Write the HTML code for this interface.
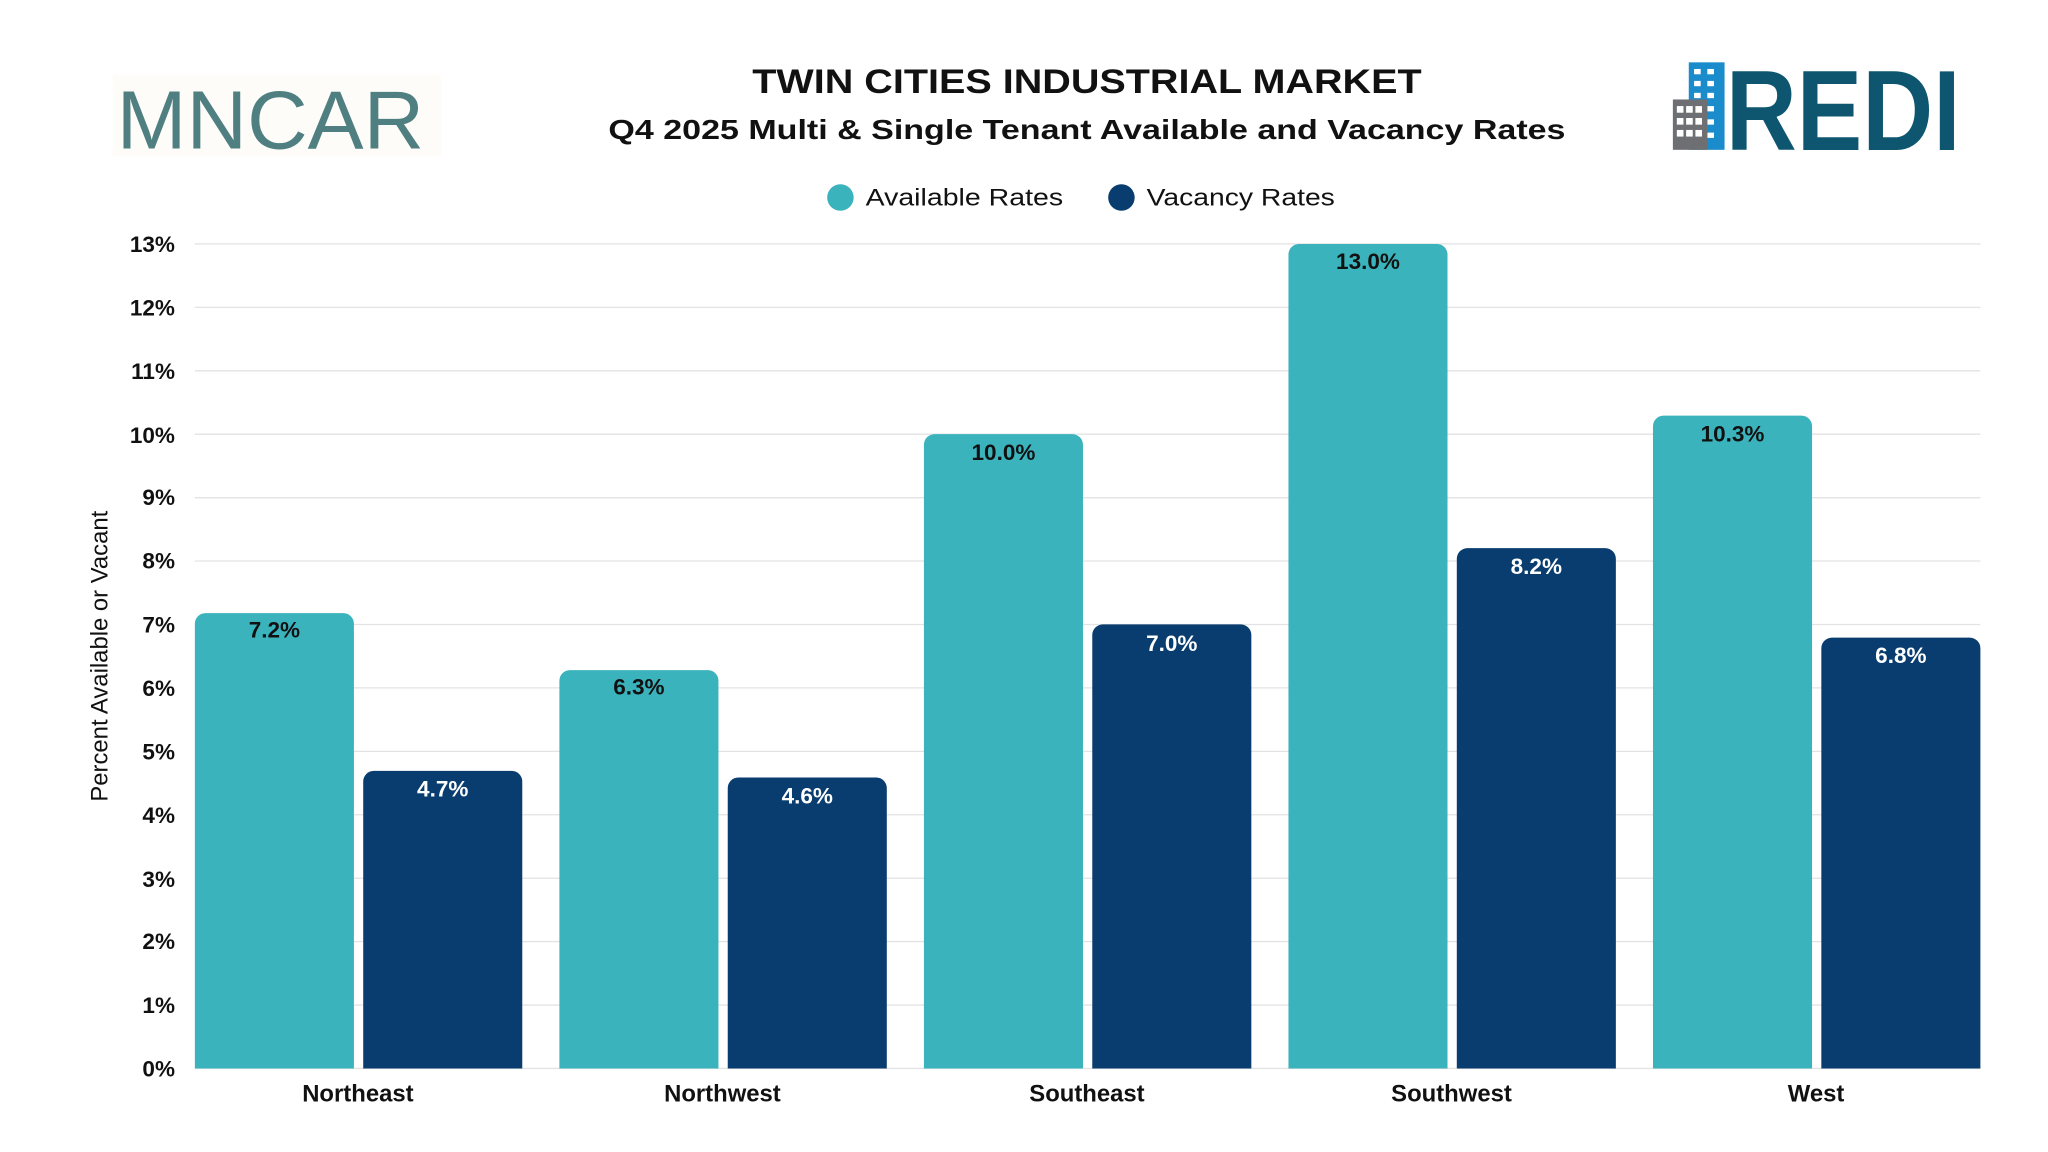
<!DOCTYPE html>
<html><head><meta charset="utf-8"><style>
html,body{margin:0;padding:0;background:#fff;}
svg{display:block;}
text{font-family:"Liberation Sans","DejaVu Sans",sans-serif;}
</style></head><body>
<svg width="2048" height="1152" viewBox="0 0 1545 869" xmlns="http://www.w3.org/2000/svg">
<rect width="1545" height="869" fill="#fff"/>
<!-- MNCAR logo -->
<rect x="85" y="56" width="248" height="62" fill="#fdfcf8"/>
<text x="204" y="112" text-anchor="middle" font-size="62" fill="#4f7f80" textLength="232" lengthAdjust="spacingAndGlyphs">MNCAR</text>
<!-- REDI logo -->
<rect x="1274" y="47" width="27" height="66" fill="#1a8ccc"/>
<g fill="#fff">
<rect x="1278" y="52" width="5" height="4"/><rect x="1288" y="52" width="5" height="4"/>
<rect x="1278" y="61" width="5" height="4"/><rect x="1288" y="61" width="5" height="4"/>
<rect x="1278" y="70" width="5" height="4"/><rect x="1288" y="70" width="5" height="4"/>
<rect x="1288" y="80" width="5" height="4"/><rect x="1288" y="90" width="5" height="4"/><rect x="1288" y="100" width="5" height="4"/>
</g>
<rect x="1262" y="75" width="26" height="38" fill="#6d6f72"/>
<g fill="#fff">
<rect x="1265" y="80" width="5" height="5"/><rect x="1272" y="80" width="5" height="5"/><rect x="1279" y="80" width="5" height="5"/>
<rect x="1265" y="89" width="5" height="5"/><rect x="1272" y="89" width="5" height="5"/><rect x="1279" y="89" width="5" height="5"/>
<rect x="1265" y="98" width="5" height="5"/><rect x="1272" y="98" width="5" height="5"/><rect x="1279" y="98" width="5" height="5"/>
</g>
<text x="1302" y="113" font-size="86" font-weight="bold" fill="#0e5670" textLength="177" lengthAdjust="spacingAndGlyphs">REDI</text>
<!-- Titles -->
<text x="820" y="70" text-anchor="middle" font-size="26" font-weight="bold" fill="#111" textLength="505" lengthAdjust="spacingAndGlyphs">TWIN CITIES INDUSTRIAL MARKET</text>
<text x="820" y="105" text-anchor="middle" font-size="21" font-weight="bold" fill="#111" textLength="722" lengthAdjust="spacingAndGlyphs">Q4 2025 Multi &amp; Single Tenant Available and Vacancy Rates</text>
<!-- Legend -->
<circle cx="634" cy="149" r="10" fill="#3bb3bc"/>
<text x="653" y="155" font-size="18" fill="#111" textLength="149" lengthAdjust="spacingAndGlyphs">Available Rates</text>
<circle cx="846" cy="149" r="10" fill="#0a3d6f"/>
<text x="865" y="155" font-size="18" fill="#111" textLength="142" lengthAdjust="spacingAndGlyphs">Vacancy Rates</text>
<!-- Grid -->
<g stroke="#e3e3e3" stroke-width="1">
<line x1="147" x2="1494" y1="184" y2="184"/><line x1="147" x2="1494" y1="231.85" y2="231.85"/>
<line x1="147" x2="1494" y1="279.7" y2="279.7"/><line x1="147" x2="1494" y1="327.5" y2="327.5"/>
<line x1="147" x2="1494" y1="375.4" y2="375.4"/><line x1="147" x2="1494" y1="423.2" y2="423.2"/>
<line x1="147" x2="1494" y1="471.1" y2="471.1"/><line x1="147" x2="1494" y1="518.9" y2="518.9"/>
<line x1="147" x2="1494" y1="566.8" y2="566.8"/><line x1="147" x2="1494" y1="614.6" y2="614.6"/>
<line x1="147" x2="1494" y1="662.5" y2="662.5"/><line x1="147" x2="1494" y1="710.3" y2="710.3"/>
<line x1="147" x2="1494" y1="758.2" y2="758.2"/><line x1="147" x2="1494" y1="806" y2="806"/>
</g>
<g font-size="17" font-weight="bold" fill="#111" text-anchor="end">
<text x="132" y="190">13%</text><text x="132" y="238">12%</text><text x="132" y="286">11%</text>
<text x="132" y="334">10%</text><text x="132" y="381">9%</text><text x="132" y="429">8%</text>
<text x="132" y="477">7%</text><text x="132" y="525">6%</text><text x="132" y="573">5%</text>
<text x="132" y="621">4%</text><text x="132" y="669">3%</text><text x="132" y="716">2%</text>
<text x="132" y="764">1%</text><text x="132" y="812">0%</text>
</g>
<text transform="translate(81,495) rotate(-90)" text-anchor="middle" font-size="18" fill="#111">Percent Available or Vacant</text>
<!-- Bars -->
<g fill="#3bb3bc">
<path d="M147,806V470.5a8,8 0 0 1 8,-8H259a8,8 0 0 1 8,8V806Z"/>
<path d="M422,806V513.5a8,8 0 0 1 8,-8H534a8,8 0 0 1 8,8V806Z"/>
<path d="M697,806V335.5a8,8 0 0 1 8,-8H809a8,8 0 0 1 8,8V806Z"/>
<path d="M972,806V192a8,8 0 0 1 8,-8H1084a8,8 0 0 1 8,8V806Z"/>
<path d="M1247,806V321.5a8,8 0 0 1 8,-8H1359a8,8 0 0 1 8,8V806Z"/>
</g>
<g fill="#0a3d6f">
<path d="M274,806V589.5a8,8 0 0 1 8,-8H386a8,8 0 0 1 8,8V806Z"/>
<path d="M549,806V594.5a8,8 0 0 1 8,-8H661a8,8 0 0 1 8,8V806Z"/>
<path d="M824,806V479a8,8 0 0 1 8,-8H936a8,8 0 0 1 8,8V806Z"/>
<path d="M1099,806V421.5a8,8 0 0 1 8,-8H1211a8,8 0 0 1 8,8V806Z"/>
<path d="M1374,806V489a8,8 0 0 1 8,-8H1486a8,8 0 0 1 8,8V806Z"/>
</g>
<g font-size="17" font-weight="bold" text-anchor="middle">
<text x="207" y="481" fill="#111">7.2%</text>
<text x="334" y="601" fill="#fff">4.7%</text>
<text x="482" y="524" fill="#111">6.3%</text>
<text x="609" y="606" fill="#fff">4.6%</text>
<text x="757" y="347" fill="#111">10.0%</text>
<text x="884" y="491" fill="#fff">7.0%</text>
<text x="1032" y="203" fill="#111">13.0%</text>
<text x="1159" y="433" fill="#fff">8.2%</text>
<text x="1307" y="333" fill="#111">10.3%</text>
<text x="1434" y="500" fill="#fff">6.8%</text>
</g>
<g font-size="18" font-weight="bold" fill="#111" text-anchor="middle">
<text x="270" y="831">Northeast</text>
<text x="545" y="831">Northwest</text>
<text x="820" y="831">Southeast</text>
<text x="1095" y="831">Southwest</text>
<text x="1370" y="831">West</text>
</g>
</svg>
</body></html>
